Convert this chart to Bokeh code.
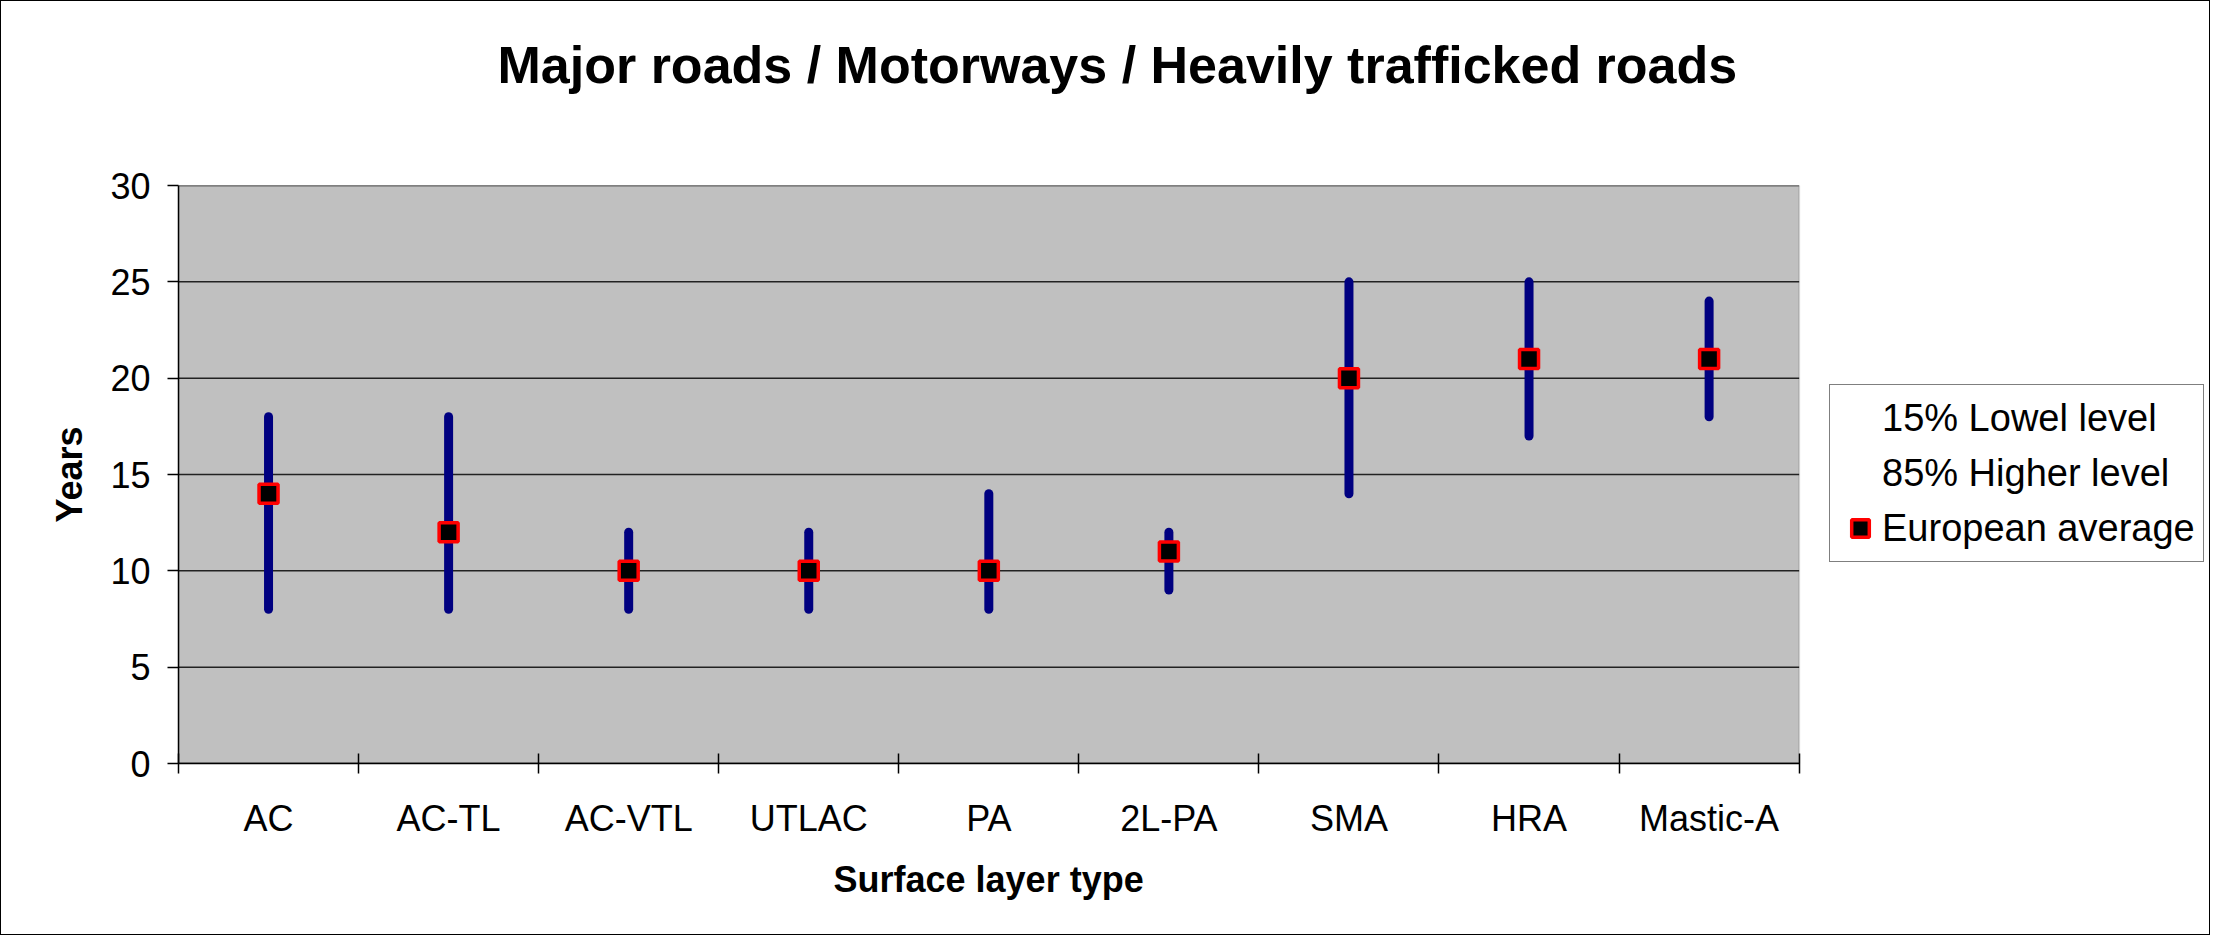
from bokeh.plotting import figure
from bokeh.models import Range1d, FixedTicker, Legend, LegendItem, BoxAnnotation, Title
from bokeh.embed import file_html
from bokeh.resources import INLINE

categories = ["AC", "AC-TL", "AC-VTL", "UTLAC", "PA", "2L-PA", "SMA", "HRA", "Mastic-A"]
low_15 = [8, 8, 8, 8, 8, 9, 14, 17, 18]
high_85 = [18, 18, 12, 12, 14, 12, 25, 25, 24]
european_average = [14, 12, 10, 10, 10, 11, 20, 21, 21]
y_ticks = [0, 5, 10, 15, 20, 25, 30]

n = len(categories)
xs = [i + 0.5 for i in range(n)]
Y_MAX = y_ticks[-1]
X_END = 11.29  # frame extends right to host the legend (layout only)
FONT = "Liberation Sans"

p = figure(width=2210, height=935, output_backend="svg", toolbar_location=None,
           x_range=Range1d(0, X_END), y_range=Range1d(0, Y_MAX),
           min_border_left=177, min_border_right=0, min_border_top=184, min_border_bottom=172,
           background_fill_color="white", border_fill_color="white")
p.styles = {"border": "1px solid #000000"}
p.outline_line_color = None

p.title.text = "Major roads / Motorways / Heavily trafficked roads"
p.title.text_font = FONT
p.title.text_font_size = "52px"
p.title.text_font_style = "bold"
p.title.text_color = "black"
p.title.align = "left"
p.title.offset = 319
try:
    p.title.padding = dict(left=0, right=0, top=0, bottom=92)
    p.title.standoff = 0
except Exception:
    p.title.standoff = 126

# grey plot area
p.add_layout(BoxAnnotation(left=0, right=n, bottom=0, top=Y_MAX,
                           fill_color="#C0C0C0", fill_alpha=1,
                           line_color="#808080", line_width=2, level="underlay"))

# x axis
p.xaxis.bounds = (0, n)
p.xaxis.ticker = FixedTicker(ticks=xs, minor_ticks=list(range(n + 1)))
p.xaxis.major_label_overrides = {x: c for x, c in zip(xs, categories)}
p.xaxis.major_tick_in = 0
p.xaxis.major_tick_out = 0
p.xaxis.minor_tick_in = 10
p.xaxis.minor_tick_out = 10
p.xaxis.minor_tick_line_color = "black"
p.xaxis.minor_tick_line_width = 1.5
p.xaxis.axis_line_color = "black"
p.xaxis.axis_line_width = 1.5
p.xaxis.major_label_standoff = 24
p.xaxis.major_label_text_font = FONT
p.xaxis.major_label_text_font_size = "36px"
p.xaxis.major_label_text_color = "black"

# x axis title, centred under the grey area
x_title = Title(text="Surface layer type", text_font=FONT, text_font_size="36px",
                text_font_style="bold", text_color="black", align="left",
                offset=655, vertical_align="top", standoff=34)
try:
    x_title.padding = dict(left=0, right=0, top=0, bottom=18)
except Exception:
    x_title.standoff = 52
p.add_layout(x_title, "below")

# y axis
p.yaxis.ticker = FixedTicker(ticks=y_ticks)
p.yaxis.major_tick_in = 0
p.yaxis.major_tick_out = 11
p.yaxis.minor_tick_line_color = None
p.yaxis.major_tick_line_color = "black"
p.yaxis.major_tick_line_width = 1.5
p.yaxis.axis_line_color = "black"
p.yaxis.axis_line_width = 1.5
p.yaxis.major_label_standoff = 17
p.yaxis.major_label_text_font = FONT
p.yaxis.major_label_text_font_size = "36px"
p.yaxis.major_label_text_color = "black"
p.yaxis.axis_label = "Years"
p.yaxis.axis_label_text_font = FONT
p.yaxis.axis_label_text_font_size = "36px"
p.yaxis.axis_label_text_font_style = "bold"
p.yaxis.axis_label_text_color = "black"
p.yaxis.axis_label_standoff = 17

p.xgrid.visible = False
p.ygrid.visible = False
# horizontal grid lines across the grey area only
p.segment(x0=[0] * len(y_ticks), x1=[n] * len(y_ticks), y0=y_ticks, y1=y_ticks,
          line_color="#222222", line_width=1.5)

# hi-lo lines
p.segment(x0=xs, y0=low_15, x1=xs, y1=high_85, line_color="#000080",
          line_width=9, line_cap="round")
r_low = p.scatter(xs, low_15, size=1, alpha=0)
r_high = p.scatter(xs, high_85, size=1, alpha=0)
r_avg = p.scatter(xs, european_average, marker="square", size=19,
                  fill_color="black", line_color="#FF0000", line_width=3.5)

legend = Legend(items=[
    LegendItem(label="15% Lowel level", renderers=[r_low]),
    LegendItem(label="85% Higher level", renderers=[r_high]),
    LegendItem(label="European average", renderers=[r_avg]),
], location=(1651, 201))
legend.label_text_font = FONT
legend.label_text_font_size = "38px"
legend.label_text_color = "black"
legend.border_line_color = "black"
legend.border_line_width = 1.5
legend.background_fill_color = "white"
legend.background_fill_alpha = 1
legend.glyph_width = 44
legend.glyph_height = 50
legend.label_height = 50
legend.label_standoff = 0
legend.padding = 8
legend.spacing = 5
legend.margin = 0
p.add_layout(legend, "center")

open("out.html", "w").write(file_html(p, INLINE))
